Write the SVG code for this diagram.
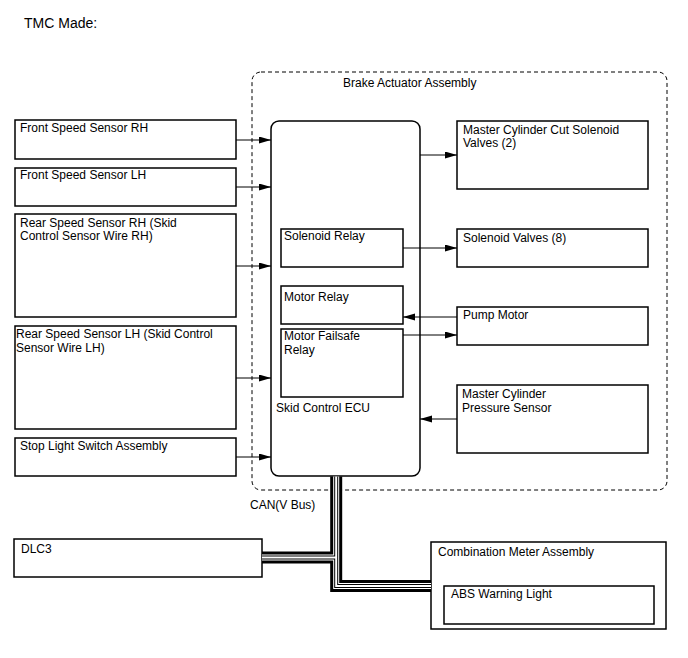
<svg xmlns="http://www.w3.org/2000/svg" width="688" height="658" viewBox="0 0 688 658">
<defs>
<style>
text{font-family:"Liberation Sans",Arial,sans-serif;font-size:12px;fill:#000}
.title{font-size:14px}
.box{fill:#fff;stroke:#000;stroke-width:1.5}
.dash{fill:none;stroke:#000;stroke-width:1;stroke-dasharray:4 3}
.ar{fill:none;stroke:#000;stroke-width:1;marker-end:url(#ah)}
.bus{fill:none;stroke-linejoin:miter}
</style>
<marker id="ah" markerUnits="userSpaceOnUse" markerWidth="12" markerHeight="8" refX="12" refY="3.5" orient="auto">
<path d="M0,0 L12,3.5 L0,7 z" fill="#000"/>
</marker>
</defs>
<rect width="688" height="658" fill="#fff"/>
<text class="title" x="24" y="28">TMC Made:</text>

<g id="brake-actuator">
<rect class="dash" x="252" y="72" width="415" height="418" rx="9"/>
<text x="343" y="87">Brake Actuator Assembly</text>
</g>

<g id="skid-ecu">
<rect class="box" x="271" y="121" width="149" height="355" rx="8"/>
<text x="276" y="412">Skid Control ECU</text>
</g>
<g id="solenoid-relay">
<rect class="box" x="281" y="229" width="122" height="38"/>
<text x="284" y="240">Solenoid Relay</text>
</g>
<g id="motor-relay">
<rect class="box" x="281" y="286" width="122" height="38"/>
<text x="284" y="301">Motor Relay</text>
</g>
<g id="motor-failsafe-relay">
<rect class="box" x="281" y="329" width="122" height="68"/>
<text x="284" y="340">Motor Failsafe</text>
<text x="284" y="354">Relay</text>
</g>

<g id="mc-cut-valves">
<rect class="box" x="457" y="121" width="191" height="68"/>
<text x="463" y="134">Master Cylinder Cut Solenoid</text>
<text x="463" y="147">Valves (2)</text>
</g>
<g id="solenoid-valves">
<rect class="box" x="457" y="229" width="191" height="38"/>
<text x="463" y="242">Solenoid Valves (8)</text>
</g>
<g id="pump-motor">
<rect class="box" x="457" y="307" width="191" height="38"/>
<text x="463" y="319">Pump Motor</text>
</g>
<g id="mc-pressure-sensor">
<rect class="box" x="457" y="385" width="191" height="68"/>
<text x="462" y="398">Master Cylinder</text>
<text x="462" y="412">Pressure Sensor</text>
</g>

<g id="front-rh">
<rect class="box" x="15" y="120" width="221" height="39"/>
<text x="20" y="132">Front Speed Sensor RH</text>
</g>
<g id="front-lh">
<rect class="box" x="15" y="168" width="221" height="38"/>
<text x="20" y="179">Front Speed Sensor LH</text>
</g>
<g id="rear-rh">
<rect class="box" x="15" y="214" width="221" height="103"/>
<text x="20" y="227">Rear Speed Sensor RH (Skid</text>
<text x="20" y="240">Control Sensor Wire RH)</text>
</g>
<g id="rear-lh">
<rect class="box" x="15" y="326" width="221" height="103"/>
<text x="16" y="338">Rear Speed Sensor LH (Skid Control</text>
<text x="16" y="352">Sensor Wire LH)</text>
</g>
<g id="stop-light">
<rect class="box" x="15" y="438" width="221" height="38"/>
<text x="20" y="450">Stop Light Switch Assembly</text>
</g>

<g id="dlc3">
<rect class="box" x="14" y="539" width="248" height="38"/>
<text x="21" y="553">DLC3</text>
</g>
<g id="combination-meter">
<rect class="box" x="431" y="542" width="235" height="87"/>
<text x="438" y="556">Combination Meter Assembly</text>
<g id="abs-warning-light">
<rect class="box" x="444" y="586" width="210" height="38"/>
<text x="451" y="598">ABS Warning Light</text>
</g>
</g>

<g id="connectors">
<line class="ar" x1="236" y1="140" x2="271" y2="140"/>
<line class="ar" x1="236" y1="187" x2="271" y2="187"/>
<line class="ar" x1="236" y1="266" x2="271" y2="266"/>
<line class="ar" x1="236" y1="378" x2="271" y2="378"/>
<line class="ar" x1="236" y1="457" x2="271" y2="457"/>
<line class="ar" x1="420" y1="155" x2="457" y2="155"/>
<line class="ar" x1="403" y1="248" x2="457" y2="248"/>
<line class="ar" x1="457" y1="317" x2="403" y2="317"/>
<line class="ar" x1="403" y1="335" x2="457" y2="335"/>
<line class="ar" x1="457" y1="419" x2="420" y2="419"/>
<g id="can-bus" class="bus">
<path d="M336.2 476.5 V586 H431 M262 557.5 H336.2" stroke="#000" stroke-width="12"/>
<path d="M336.2 476.5 V586 H431 M262 557.5 H336.2" stroke="#fff" stroke-width="6"/>
<path d="M336.2 476.5 V586 H431 M262 557.5 H336.2" stroke="#000" stroke-width="4"/>
<path d="M336.2 476.5 V586 H431 M262 557.5 H336.2" stroke="#fff" stroke-width="2"/>
</g>
<text x="250" y="509">CAN(V Bus)</text>
</g>
</svg>
